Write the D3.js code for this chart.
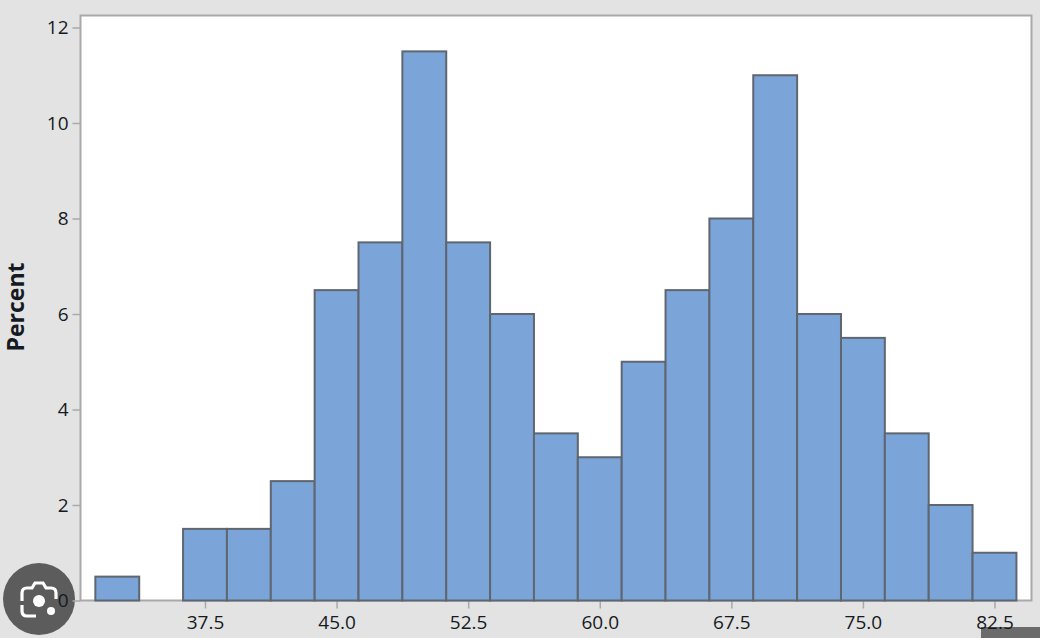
<!DOCTYPE html>
<html>
<head>
<meta charset="utf-8">
<script src="https://cdn.jsdelivr.net/npm/d3@7"></script>
<style>
html,body{margin:0;padding:0;background:#e3e3e3;overflow:hidden}
svg{display:block}
text{font-family:"Open Sans","Noto Sans",sans-serif;fill:#151a22}
</style>
</head>
<body>
<svg id="c" width="1040" height="638"></svg>
<script>
const binCenters = [32.5,35,37.5,40,42.5,45,47.5,50,52.5,55,57.5,60,62.5,65,67.5,70,72.5,75,77.5,80,82.5];
const percents = [0.5,0,1.5,1.5,2.5,6.5,7.5,11.5,7.5,6,3.5,3,5,6.5,8,11,6,5.5,3.5,2,1];
const xTickValues = [37.5,45,52.5,60,67.5,75,82.5];
const yTickValues = [0,2,4,6,8,10,12];
const binWidth = 2.5;
const yLabel = "Percent";

const svg = d3.select("#c");
const x = d3.scaleLinear().domain([37.5,82.5]).range([205,994.5]);
const y = d3.scaleLinear().domain([0,12]).range([600.5,27.5]);

svg.append("rect").attr("width",1040).attr("height",638).attr("fill","#e3e3e3");
svg.append("rect").attr("x",80.5).attr("y",15.5).attr("width",951).attr("height",585)
  .attr("fill","#fff").attr("stroke","#a9a9a9").attr("stroke-width",2);

// overlay from the screenshot that sits beneath the axis labels
svg.append("rect").attr("x",981).attr("y",627).attr("width",59).attr("height",11).attr("fill","#6b6b6b");
const badge = svg.append("g").attr("transform","translate(39,599)");
badge.append("circle").attr("r",36).attr("fill","#5c5c5c");
badge.append("path")
  .attr("d","M-17,2 L-17,-6 Q-17,-11 -12,-11 L-7,-11 L-4,-16 L4,-16 L7,-11 L12,-11 Q17,-11 17,-6 L17,0 M-17,6 L-17,12 Q-17,17 -12,17 L-3,17")
  .attr("fill","none").attr("stroke","#fff").attr("stroke-width",3.2);
badge.append("circle").attr("cx",0).attr("cy",2).attr("r",6).attr("fill","#fff");
badge.append("circle").attr("cx",12).attr("cy",12).attr("r",4).attr("fill","#fff");

const xAxis = d3.axisBottom(x).tickValues(xTickValues).tickFormat(d3.format(".1f")).tickSize(8).tickPadding(3);
const gx = svg.append("g").attr("transform","translate(0,600.5)").call(xAxis);
const yAxis = d3.axisLeft(y).tickValues(yTickValues).tickFormat(d3.format("d")).tickSize(8).tickPadding(4);
const gy = svg.append("g").attr("transform","translate(80.5,0)").call(yAxis);
[gx,gy].forEach(g=>{
  g.select(".domain").remove();
  g.selectAll("line").attr("stroke","#a9a9a9").attr("stroke-width",1.5);
  g.selectAll("text").attr("font-size",19).attr("font-family",'"Open Sans",sans-serif').attr("fill","#151a22");
});
gx.selectAll("text").attr("dy","0.9em");

svg.append("g").selectAll("rect").data(binCenters).join("rect")
  .attr("x",d=>x(d-binWidth/2))
  .attr("width",d=>x(d+binWidth/2)-x(d-binWidth/2))
  .attr("y",(d,i)=>y(percents[i]))
  .attr("height",(d,i)=>y(0)-y(percents[i]))
  .attr("fill","#7ba5d9")
  .attr("stroke","#5f6670")
  .attr("stroke-width",2);

svg.append("text").attr("transform","translate(24,307) rotate(-90)")
  .attr("text-anchor","middle").attr("font-size",23).attr("font-weight",700).text(yLabel);
</script>
</body>
</html>
